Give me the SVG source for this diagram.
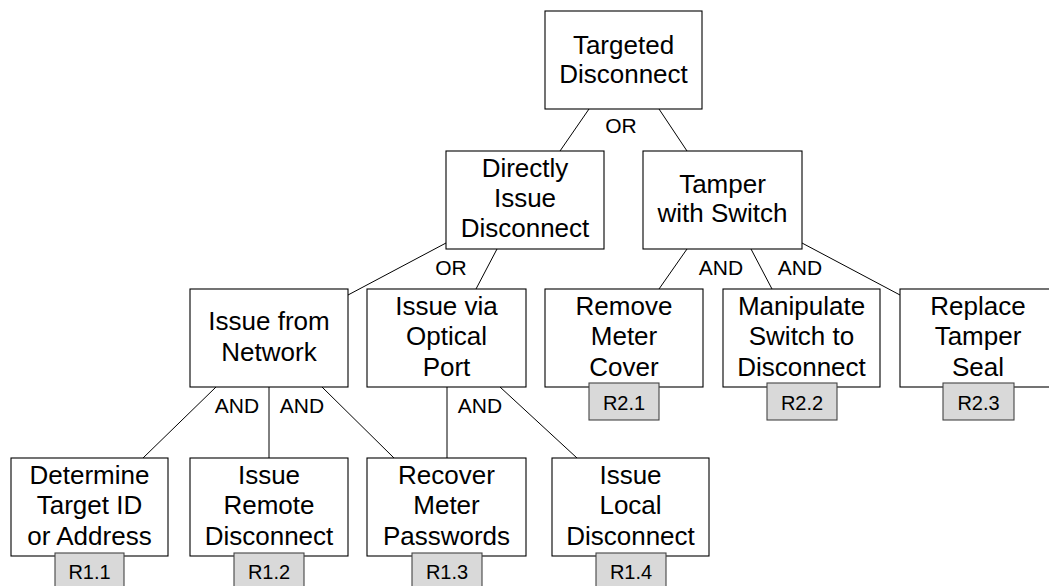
<svg xmlns="http://www.w3.org/2000/svg" width="1049" height="586" viewBox="0 0 1049 586">
<style>
.box{fill:#fff;stroke:#000;stroke-width:1.1}
.req{fill:#d9d9d9;stroke:#444;stroke-width:1.1}
.t{font-family:"Liberation Sans",Arial,sans-serif;font-size:26px;text-anchor:middle;fill:#000}
.lbl{font-family:"Liberation Sans",Arial,sans-serif;font-size:21px;text-anchor:middle;fill:#000}
.r{font-family:"Liberation Sans",Arial,sans-serif;font-size:20px;text-anchor:middle;fill:#000}
.c{stroke:#000;stroke-width:1;fill:none}
</style>
<rect width="1049" height="586" fill="#fff"/>
<g id="connectors">
<line class="c" x1="589" y1="109" x2="560" y2="151"/>
<line class="c" x1="659" y1="109" x2="687" y2="151"/>
<line class="c" x1="446" y1="243" x2="348" y2="295"/>
<line class="c" x1="497" y1="249" x2="476" y2="289"/>
<line class="c" x1="687" y1="249" x2="659" y2="289"/>
<line class="c" x1="751" y1="249" x2="772" y2="289"/>
<line class="c" x1="802" y1="243" x2="900" y2="295"/>
<line class="c" x1="216" y1="387" x2="143" y2="458"/>
<line class="c" x1="269" y1="387" x2="269" y2="458"/>
<line class="c" x1="322" y1="387" x2="394" y2="458"/>
<line class="c" x1="447" y1="387" x2="447" y2="458"/>
<line class="c" x1="500" y1="387" x2="577" y2="458"/>
<text class="lbl" x="621" y="133">OR</text>
<text class="lbl" x="451" y="275">OR</text>
<text class="lbl" x="721" y="275">AND</text>
<text class="lbl" x="800" y="275">AND</text>
<text class="lbl" x="237" y="413">AND</text>
<text class="lbl" x="302" y="413">AND</text>
<text class="lbl" x="480" y="413">AND</text>
</g>
<g id="n-root">
<rect class="box" x="545" y="11" width="157" height="98"/>
<text class="t" x="623.5" y="54">Targeted</text>
<text class="t" x="623.5" y="83">Disconnect</text>
</g>
<g id="n-directly">
<rect class="box" x="446" y="151" width="158" height="98"/>
<text class="t" x="525" y="177">Directly</text>
<text class="t" x="525" y="207">Issue</text>
<text class="t" x="525" y="237">Disconnect</text>
</g>
<g id="n-tamper">
<rect class="box" x="643" y="151" width="159" height="98"/>
<text class="t" x="722.5" y="193">Tamper</text>
<text class="t" x="722.5" y="222">with Switch</text>
</g>
<g id="n-network">
<rect class="box" x="190" y="289" width="158" height="98"/>
<text class="t" x="269" y="330">Issue from</text>
<text class="t" x="269" y="361">Network</text>
</g>
<g id="n-optical">
<rect class="box" x="367" y="289" width="159" height="98"/>
<text class="t" x="446.5" y="315">Issue via</text>
<text class="t" x="446.5" y="345">Optical</text>
<text class="t" x="446.5" y="376">Port</text>
</g>
<g id="n-remove">
<rect class="box" x="545" y="289" width="158" height="98"/>
<text class="t" x="624" y="315">Remove</text>
<text class="t" x="624" y="345">Meter</text>
<text class="t" x="624" y="376">Cover</text>
<rect class="req" x="589" y="383" width="70" height="37"/>
<text class="r" x="624" y="410">R2.1</text>
</g>
<g id="n-manipulate">
<rect class="box" x="723" y="289" width="157" height="98"/>
<text class="t" x="801.5" y="315">Manipulate</text>
<text class="t" x="801.5" y="345">Switch to</text>
<text class="t" x="801.5" y="376">Disconnect</text>
<rect class="req" x="767" y="383" width="70" height="37"/>
<text class="r" x="802" y="410">R2.2</text>
</g>
<g id="n-replace">
<rect class="box" x="900" y="289" width="158" height="98"/>
<text class="t" x="978" y="315">Replace</text>
<text class="t" x="978" y="345">Tamper</text>
<text class="t" x="978" y="376">Seal</text>
<rect class="req" x="943" y="383" width="71" height="37"/>
<text class="r" x="978.5" y="410">R2.3</text>
</g>
<g id="n-determine">
<rect class="box" x="11" y="458" width="157" height="98"/>
<text class="t" x="89.5" y="484">Determine</text>
<text class="t" x="89.5" y="514">Target ID</text>
<text class="t" x="89.5" y="545">or Address</text>
<rect class="req" x="55" y="553" width="69" height="37"/>
<text class="r" x="89.5" y="579">R1.1</text>
</g>
<g id="n-remote">
<rect class="box" x="190" y="458" width="158" height="98"/>
<text class="t" x="269" y="484">Issue</text>
<text class="t" x="269" y="514">Remote</text>
<text class="t" x="269" y="545">Disconnect</text>
<rect class="req" x="234" y="553" width="70" height="37"/>
<text class="r" x="269" y="579">R1.2</text>
</g>
<g id="n-recover">
<rect class="box" x="367" y="458" width="159" height="98"/>
<text class="t" x="446.5" y="484">Recover</text>
<text class="t" x="446.5" y="514">Meter</text>
<text class="t" x="446.5" y="545">Passwords</text>
<rect class="req" x="412" y="553" width="70" height="37"/>
<text class="r" x="447" y="579">R1.3</text>
</g>
<g id="n-local">
<rect class="box" x="552" y="458" width="157" height="98"/>
<text class="t" x="630.5" y="484">Issue</text>
<text class="t" x="630.5" y="514">Local</text>
<text class="t" x="630.5" y="545">Disconnect</text>
<rect class="req" x="596" y="553" width="70" height="37"/>
<text class="r" x="631" y="579">R1.4</text>
</g>
</svg>
